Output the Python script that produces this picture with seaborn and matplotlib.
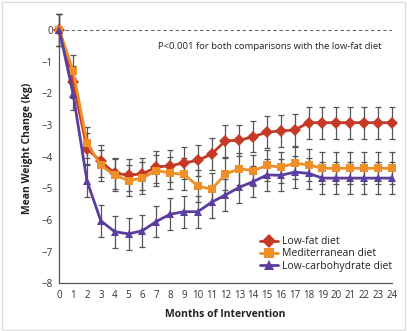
import numpy as np
import pandas as pd
import matplotlib
matplotlib.use("Agg")
import matplotlib.pyplot as plt
import seaborn as sns

months = list(range(0, 25))
low_fat = [0, -1.65, -3.75, -4.15, -4.53, -4.58, -4.55, -4.33, -4.29, -4.2, -4.12,
           -3.92, -3.5, -3.49, -3.37, -3.23, -3.19, -3.16, -2.93, -2.93, -2.93,
           -2.93, -2.93, -2.93, -2.93]
mediterranean = [0, -1.3, -3.56, -4.28, -4.58, -4.76, -4.68, -4.44, -4.52, -4.56, -4.93,
                 -5.03, -4.55, -4.39, -4.44, -4.28, -4.34, -4.21, -4.26, -4.37, -4.37,
                 -4.37, -4.37, -4.37, -4.37]
low_carb = [0, -2.03, -4.77, -6.03, -6.37, -6.44, -6.34, -6.05, -5.82, -5.74, -5.74,
            -5.44, -5.21, -4.97, -4.79, -4.58, -4.59, -4.49, -4.53, -4.68, -4.68,
            -4.68, -4.68, -4.68, -4.68]
err_low_fat = [0.5] * 25
err_med = [0.5] * 25
err_carb = [0.5] * 25
series_names = ["Low-fat diet", "Mediterranean diet", "Low-carbohydrate diet"]
x_ticks = list(range(0, 25))
y_ticks = [0, -1, -2, -3, -4, -5, -6, -7, -8]
annotation = "P<0.001 for both comparisons with the low-fat diet"

colors = ["#C43A27", "#EE8F27", "#5B3E9E"]
markers = ["D", "s", "^"]
msizes = [7, 6.5, 7]

sns.set_style("white")
plt.rcParams["font.family"] = ["Open Sans", "DejaVu Sans"]

df = pd.DataFrame({
    "Month": months * 3,
    "Change": low_fat + mediterranean + low_carb,
    "Diet": [series_names[0]] * 25 + [series_names[1]] * 25 + [series_names[2]] * 25,
})

fig = plt.figure(figsize=(4.07, 3.31), dpi=100)
ax = fig.add_axes([0.1457, 0.1441, 0.9624 - 0.1457, 0.9577 - 0.1441])

for vals, errs in [(low_fat, err_low_fat), (mediterranean, err_med), (low_carb, err_carb)]:
    ax.errorbar(months, vals, yerr=errs, fmt="none", ecolor="#555555",
                elinewidth=0.9, capsize=2.2, capthick=0.9, zorder=1, clip_on=False)

ax.axhline(0, color="#666666", lw=0.8, ls=(0, (3, 2.5)), zorder=0.5)

sns.lineplot(data=df, x="Month", y="Change", hue="Diet", style="Diet",
             palette=colors, markers=markers, dashes=False, ax=ax,
             linewidth=2, markeredgewidth=0, zorder=3, clip_on=False,
             hue_order=series_names, style_order=series_names)
for line, ms in zip(ax.get_lines()[-3:], msizes):
    line.set_markersize(ms)

ax.set_xlim(0, 24)
ax.set_ylim(-8, 0.5)
ax.set_xticks(x_ticks)
ax.set_yticks(y_ticks)
ax.set_yticklabels([str(t).replace("-", "\u2212") for t in y_ticks])
ax.tick_params(axis="both", direction="out", length=3, width=0.8, colors="#333333",
               labelsize=7, pad=1.5)
for s in ["top", "right"]:
    ax.spines[s].set_visible(False)
for s in ["left", "bottom"]:
    ax.spines[s].set_color("#555555")
    ax.spines[s].set_linewidth(0.9)

ax.set_xlabel("Months of Intervention", fontsize=7.5, fontweight="bold", labelpad=6,
              color="#222222")
ax.set_ylabel("Mean Weight Change (kg)", fontsize=7.5, fontweight="bold", labelpad=6,
              color="#222222")

ax.text(0.97, 0.88, annotation, transform=ax.transAxes, ha="right", va="center",
        fontsize=6.8, color="#222222")

handles, labels = ax.get_legend_handles_labels()
for h, ms in zip(handles, msizes):
    h.set_markersize(ms)
leg = ax.legend(handles, labels, loc="lower right", bbox_to_anchor=(1.02, 0.02),
                frameon=False, fontsize=7.5, handlelength=1.7, handletextpad=0.4,
                labelspacing=0.12, borderaxespad=0.2)
for t in leg.get_texts():
    t.set_color("#222222")

fig.patches.append(plt.Rectangle((0.004, 0.004), 0.992, 0.99, transform=fig.transFigure,
                                 fill=False, edgecolor="#dddddd", lw=1))

fig.savefig("out.png", dpi=100)
